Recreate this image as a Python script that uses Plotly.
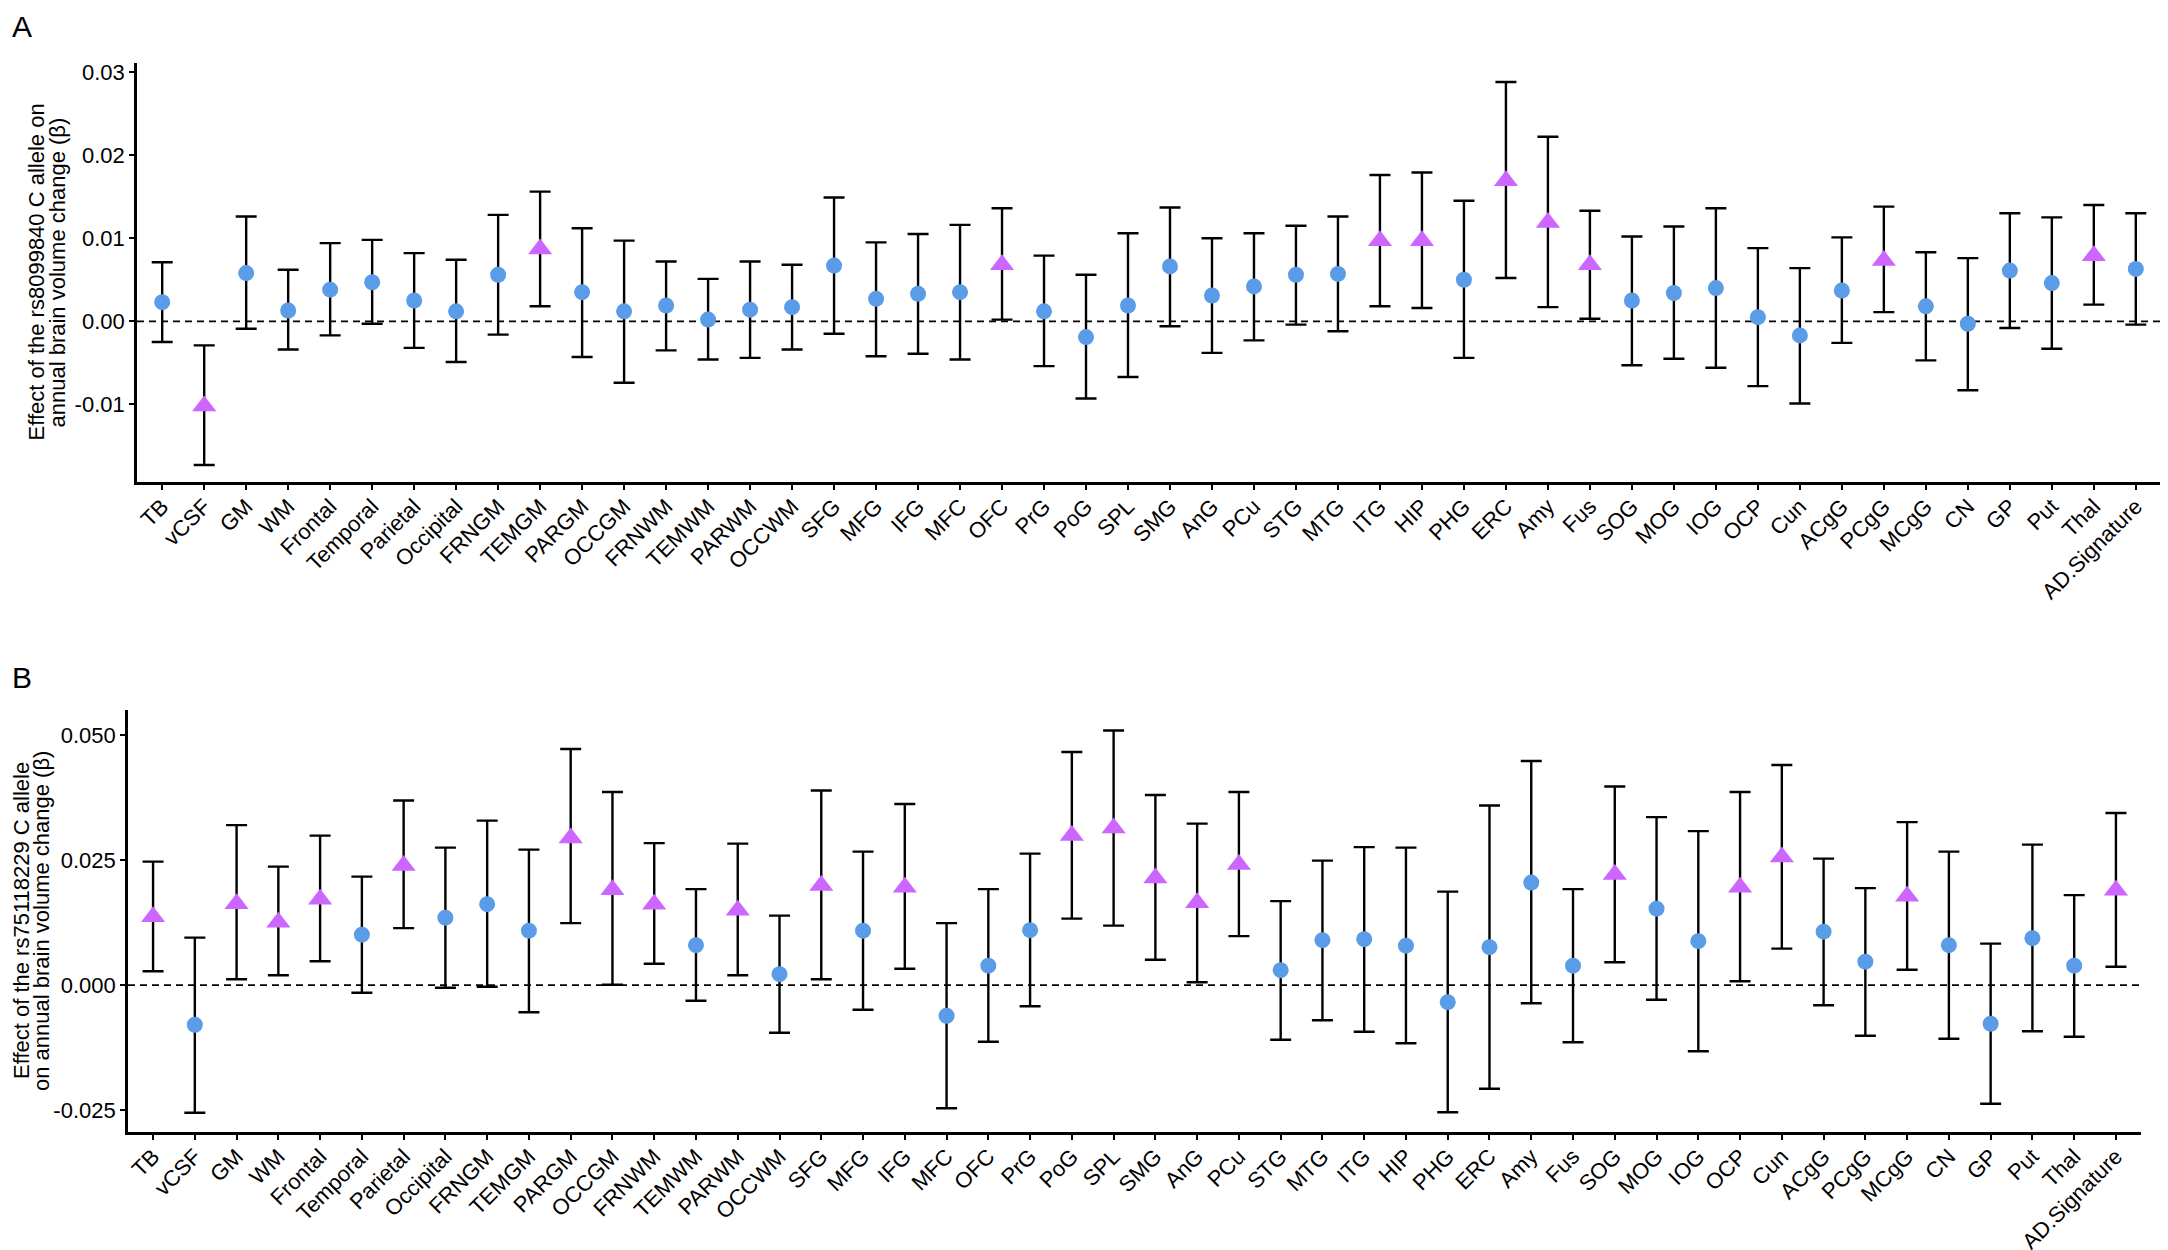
import plotly.graph_objects as go

categories = ["TB", "vCSF", "GM", "WM", "Frontal", "Temporal", "Parietal", "Occipital",
              "FRNGM", "TEMGM", "PARGM", "OCCGM", "FRNWM", "TEMWM", "PARWM", "OCCWM",
              "SFG", "MFG", "IFG", "MFC", "OFC", "PrG", "PoG", "SPL", "SMG", "AnG", "PCu",
              "STG", "MTG", "ITG", "HIP", "PHG", "ERC", "Amy", "Fus", "SOG", "MOG", "IOG",
              "OCP", "Cun", "ACgG", "PCgG", "MCgG", "CN", "GP", "Put", "Thal", "AD.Signature"]

# Panel A: rs8099840
a_beta = [0.0023, -0.0102, 0.0058, 0.0013, 0.0038, 0.0047, 0.0025, 0.0012,
          0.0056, 0.0087, 0.0035, 0.0012, 0.0019, 0.0002, 0.0014, 0.0017,
          0.0067, 0.0027, 0.0033, 0.0035, 0.0068, 0.0012, -0.0019, 0.0019, 0.0066, 0.0031, 0.0042,
          0.0056, 0.0057, 0.0097, 0.0097, 0.0050, 0.0169, 0.0119, 0.0068, 0.0025, 0.0034, 0.0040,
          0.0005, -0.0017, 0.0037, 0.0073, 0.0018, -0.0003, 0.0061, 0.0046, 0.0079, 0.0063]
a_lo = [-0.0025, -0.0173, -0.0009, -0.0034, -0.0017, -0.0003, -0.0032, -0.0049,
        -0.0016, 0.0018, -0.0043, -0.0074, -0.0035, -0.0046, -0.0044, -0.0034,
        -0.0015, -0.0042, -0.0039, -0.0046, 0.0002, -0.0054, -0.0093, -0.0067, -0.0006, -0.0038, -0.0023,
        -0.0004, -0.0012, 0.0018, 0.0016, -0.0044, 0.0052, 0.0017, 0.0003, -0.0053, -0.0045, -0.0056,
        -0.0078, -0.0099, -0.0026, 0.0011, -0.0047, -0.0083, -0.0008, -0.0033, 0.0020, -0.0004]
a_hi = [0.0071, -0.0029, 0.0126, 0.0062, 0.0094, 0.0098, 0.0082, 0.0074,
        0.0128, 0.0156, 0.0112, 0.0097, 0.0072, 0.0051, 0.0072, 0.0068,
        0.0149, 0.0095, 0.0105, 0.0116, 0.0136, 0.0079, 0.0056, 0.0106, 0.0137, 0.0100, 0.0106,
        0.0115, 0.0126, 0.0176, 0.0179, 0.0145, 0.0288, 0.0222, 0.0133, 0.0102, 0.0114, 0.0136,
        0.0088, 0.0064, 0.0101, 0.0138, 0.0083, 0.0076, 0.0130, 0.0125, 0.0140, 0.0130]
a_sig = ["vCSF", "TEMGM", "OFC", "ITG", "HIP", "ERC", "Amy", "Fus", "PCgG", "Thal"]

# Panel B: rs75118229
b_beta = [0.0137, -0.0079, 0.0163, 0.0126, 0.0172, 0.0101, 0.0239, 0.0135,
          0.0162, 0.0109, 0.0294, 0.0191, 0.0162, 0.0080, 0.0150, 0.0022,
          0.0199, 0.0109, 0.0196, -0.0061, 0.0039, 0.0110, 0.0299, 0.0314, 0.0214, 0.0165, 0.0241,
          0.0030, 0.0090, 0.0092, 0.0079, -0.0034, 0.0076, 0.0205, 0.0039, 0.0221, 0.0153, 0.0088,
          0.0196, 0.0256, 0.0107, 0.0047, 0.0178, 0.0080, -0.0077, 0.0094, 0.0039, 0.0190]
b_lo = [0.0028, -0.0255, 0.0012, 0.0020, 0.0048, -0.0015, 0.0114, -0.0005,
        -0.0003, -0.0054, 0.0124, 0.0001, 0.0043, -0.0031, 0.0020, -0.0095,
        0.0012, -0.0049, 0.0033, -0.0246, -0.0113, -0.0042, 0.0133, 0.0119, 0.0051, 0.0006, 0.0098,
        -0.0109, -0.0070, -0.0093, -0.0116, -0.0254, -0.0207, -0.0036, -0.0114, 0.0046, -0.0029, -0.0132,
        0.0008, 0.0073, -0.0040, -0.0101, 0.0031, -0.0107, -0.0237, -0.0092, -0.0103, 0.0037]
b_hi = [0.0247, 0.0095, 0.0320, 0.0237, 0.0299, 0.0217, 0.0369, 0.0275,
        0.0329, 0.0271, 0.0472, 0.0386, 0.0284, 0.0192, 0.0283, 0.0139,
        0.0389, 0.0267, 0.0362, 0.0124, 0.0192, 0.0263, 0.0466, 0.0509, 0.0380, 0.0323, 0.0386,
        0.0168, 0.0249, 0.0276, 0.0275, 0.0187, 0.0359, 0.0448, 0.0192, 0.0397, 0.0336, 0.0308,
        0.0386, 0.0440, 0.0253, 0.0194, 0.0326, 0.0267, 0.0083, 0.0281, 0.0180, 0.0344]
b_sig = ["TB", "GM", "WM", "Frontal", "Parietal", "PARGM", "OCCGM", "FRNWM", "PARWM",
         "SFG", "IFG", "PoG", "SPL", "SMG", "AnG", "PCu", "SOG", "OCP", "Cun", "MCgG",
         "AD.Signature"]

a_ticks = [-0.01, 0.0, 0.01, 0.02, 0.03]
a_ticktext = ["-0.01", "0.00", "0.01", "0.02", "0.03"]
b_ticks = [-0.025, 0.0, 0.025, 0.05]
b_ticktext = ["-0.025", "0.000", "0.025", "0.050"]

BLUE = "#5B9CE8"
PURPLE = "#CC66FF"
FONT = "Liberation Sans, Arial, sans-serif"

fig = go.Figure()


def add_panel(beta, lo, hi, sig, xa, ya):
    for is_sig in (False, True):
        idx = [i for i, c in enumerate(categories) if (c in sig) == is_sig]
        fig.add_trace(go.Scatter(
            x=[categories[i] for i in idx],
            y=[beta[i] for i in idx],
            mode="markers",
            xaxis=xa, yaxis=ya,
            marker=dict(symbol="triangle-up" if is_sig else "circle",
                        size=21 if is_sig else 16,
                        color=PURPLE if is_sig else BLUE,
                        line=dict(width=0)),
            error_y=dict(type="data", symmetric=False,
                         array=[hi[i] - beta[i] for i in idx],
                         arrayminus=[beta[i] - lo[i] for i in idx],
                         color="black", thickness=2.4, width=10.5),
            showlegend=False,
        ))


add_panel(a_beta, a_lo, a_hi, a_sig, "x", "y")
add_panel(b_beta, b_lo, b_hi, b_sig, "x2", "y2")

n = len(categories)
xaxis_common = dict(type="category", categoryorder="array", categoryarray=categories,
                    range=[-0.6, n - 1 + 0.6], tickangle=-45,
                    showline=True, linecolor="black", linewidth=2.7,
                    ticks="outside", ticklen=5, tickwidth=2, tickcolor="black",
                    ticklabelstandoff=-5,
                    showgrid=False, zeroline=False, automargin=False,
                    tickfont=dict(family=FONT, size=22, color="black"))
yaxis_common = dict(showline=True, linecolor="black", linewidth=2.7,
                    ticks="outside", ticklen=5, tickwidth=2, tickcolor="black",
                    showgrid=False, zeroline=False, automargin=False,
                    tickfont=dict(family=FONT, size=22, color="black"))

W, H = 2168, 1250
A_top, A_bot = 55, 474
B_top, B_bot = 702, 1124
fig.update_layout(
    width=W, height=H,
    margin=dict(l=0, r=0, t=0, b=0),
    paper_bgcolor="white", plot_bgcolor="white",
    xaxis=dict(**xaxis_common, domain=[129 / W, 2153 / W], anchor="y"),
    yaxis=dict(**yaxis_common, domain=[1 - A_bot / H, 1 - A_top / H], anchor="x",
               range=[-0.01934, 0.03108], tickvals=a_ticks, ticktext=a_ticktext),
    xaxis2=dict(**xaxis_common, domain=[120 / W, 2133 / W], anchor="y2"),
    yaxis2=dict(**yaxis_common, domain=[1 - B_bot / H, 1 - B_top / H], anchor="x2",
                range=[-0.02934, 0.055], tickvals=b_ticks, ticktext=b_ticktext),
    shapes=[
        dict(type="line", xref="x domain", yref="y", x0=0, x1=1, y0=0, y1=0,
             line=dict(color="black", width=1.7, dash="7px,5px"), layer="below"),
        dict(type="line", xref="x2 domain", yref="y2", x0=0, x1=1, y0=0, y1=0,
             line=dict(color="black", width=1.7, dash="7px,5px"), layer="below"),
    ],
    annotations=[
        dict(text="A", x=2 / W, y=1, xref="paper", yref="paper",
             xanchor="left", yanchor="top", showarrow=False,
             font=dict(family=FONT, size=30, color="black")),
        dict(text="B", x=2 / W, y=1 - 651 / H, xref="paper", yref="paper",
             xanchor="left", yanchor="top", showarrow=False,
             font=dict(family=FONT, size=30, color="black")),
        dict(text="Effect of the rs8099840 C allele on",
             x=28 / W, y=1 - (A_top + A_bot) / 2 / H, xref="paper", yref="paper", textangle=-90,
             xanchor="center", yanchor="middle", showarrow=False,
             font=dict(family=FONT, size=22, color="black")),
        dict(text="annual brain volume change (β)",
             x=49 / W, y=1 - (A_top + A_bot) / 2 / H, xref="paper", yref="paper", textangle=-90,
             xanchor="center", yanchor="middle", showarrow=False,
             font=dict(family=FONT, size=22, color="black")),
        dict(text="Effect of the rs75118229 C allele",
             x=13 / W, y=1 - (B_top + B_bot) / 2 / H, xref="paper", yref="paper", textangle=-90,
             xanchor="center", yanchor="middle", showarrow=False,
             font=dict(family=FONT, size=22, color="black")),
        dict(text="on annual brain volume change (β)",
             x=33 / W, y=1 - (B_top + B_bot) / 2 / H, xref="paper", yref="paper", textangle=-90,
             xanchor="center", yanchor="middle", showarrow=False,
             font=dict(family=FONT, size=22, color="black")),
    ],
)

fig.write_html("out.html")
